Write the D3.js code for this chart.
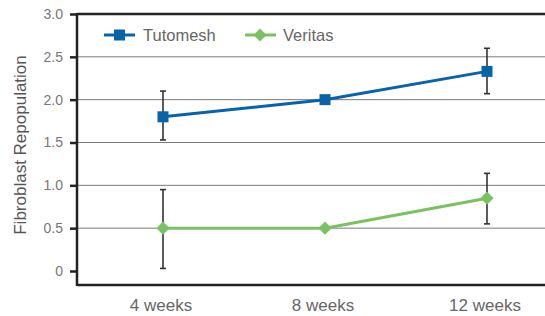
<!DOCTYPE html>
<html>
<head>
<meta charset="utf-8">
<script src="https://cdn.jsdelivr.net/npm/d3@7"></script>
<style>
  body { margin: 0; background: #fff; }
  text { font-family: "Liberation Sans", Arial, sans-serif; }
</style>
</head>
<body>
<div id="chart"></div>
<script>
const categories = ["4 weeks", "8 weeks", "12 weeks"];
const tutomesh = [1.8, 2.0, 2.33];
const tutomeshLow = [1.53, null, 2.07];
const tutomeshHigh = [2.1, null, 2.6];
const veritas = [0.5, 0.5, 0.85];
const veritasLow = [0.03, null, 0.55];
const veritasHigh = [0.95, null, 1.14];
const yTicks = [0, 0.5, 1.0, 1.5, 2.0, 2.5, 3.0];

const width = 545, height = 316;
const svg = d3.select("#chart").append("svg")
  .attr("width", width).attr("height", height);

const plotLeft = 77, plotRight = 545, plotTop = 14, plotBottom = 285;

const x = d3.scalePoint().domain(categories).range([163, 487]);
const y = d3.scaleLinear().domain([0, 3]).range([271, 14]);

// gridlines
svg.append("g")
  .selectAll("line")
  .data(yTicks.slice(1, -1))
  .enter()
  .append("line")
  .attr("x1", plotLeft).attr("x2", plotRight)
  .attr("y1", (d) => y(d)).attr("y2", (d) => y(d))
  .attr("stroke", "#7a7a7a")
  .attr("stroke-width", 1);

// y axis
const yAxis = d3.axisLeft(y).tickValues(yTicks)
  .tickFormat((d) => (d === 0 ? "0" : d3.format(".1f")(d)))
  .tickSize(7).tickPadding(7);
const gy = svg.append("g")
  .attr("transform", `translate(${plotLeft},0)`)
  .call(yAxis);
gy.select(".domain").remove();
gy.selectAll(".tick line").attr("stroke", "#222").attr("stroke-width", 2.5);
gy.selectAll(".tick text")
  .attr("fill", "#777").style("font-size", "14px")
  .style("font-family", "'Liberation Sans', Arial, sans-serif");

// frame: left axis, top line, bottom line
svg.append("line").attr("x1", plotLeft).attr("x2", plotLeft).attr("y1", plotTop - 1).attr("y2", plotBottom + 1)
  .attr("stroke", "#222").attr("stroke-width", 2.5);
svg.append("line").attr("x1", plotLeft).attr("x2", plotRight).attr("y1", plotTop).attr("y2", plotTop)
  .attr("stroke", "#222").attr("stroke-width", 2.5);
svg.append("line").attr("x1", plotLeft).attr("x2", plotRight).attr("y1", plotBottom).attr("y2", plotBottom)
  .attr("stroke", "#222").attr("stroke-width", 2.5);

// x labels
svg.append("g")
  .selectAll("text")
  .data(categories)
  .enter()
  .append("text")
  .attr("x", (d) => x(d) - 2)
  .attr("y", 311)
  .attr("text-anchor", "middle")
  .attr("fill", "#666")
  .style("font-size", "17px")
  .text((d) => d);

// y label
svg.append("text")
  .attr("transform", "rotate(-90)")
  .attr("x", -145)
  .attr("y", 26)
  .attr("text-anchor", "middle")
  .attr("fill", "#555")
  .style("font-size", "17px")
  .text("Fibroblast Repopulation");

const line = d3.line()
  .x((d, i) => x(categories[i]))
  .y((d) => y(d));

function errorBars(values, low, high) {
  const g = svg.append("g").attr("stroke", "#333").attr("stroke-width", 1.6);
  categories.forEach((c, i) => {
    if (low[i] == null) return;
    const cx = x(c);
    g.append("line").attr("x1", cx).attr("x2", cx).attr("y1", y(high[i])).attr("y2", y(low[i]));
    g.append("line").attr("x1", cx - 3).attr("x2", cx + 3).attr("y1", y(high[i])).attr("y2", y(high[i]));
    g.append("line").attr("x1", cx - 3).attr("x2", cx + 3).attr("y1", y(low[i])).attr("y2", y(low[i]));
  });
}

errorBars(tutomesh, tutomeshLow, tutomeshHigh);
errorBars(veritas, veritasLow, veritasHigh);

const blue = "#0a63a6", green = "#79c163";

svg.append("path").datum(tutomesh).attr("d", line)
  .attr("fill", "none").attr("stroke", blue).attr("stroke-width", 3);
svg.append("path").datum(veritas).attr("d", line)
  .attr("fill", "none").attr("stroke", green).attr("stroke-width", 3);

svg.selectAll(".sq").data(tutomesh).enter().append("rect")
  .attr("class", "sq")
  .attr("x", (d, i) => x(categories[i]) - 5.5)
  .attr("y", (d) => y(d) - 5.5)
  .attr("width", 11).attr("height", 11)
  .attr("fill", blue);

const diamond = d3.symbol().type(d3.symbolDiamond2).size(110);
svg.selectAll(".dm").data(veritas).enter().append("path")
  .attr("class", "dm")
  .attr("transform", (d, i) => `translate(${x(categories[i])},${y(d)})`)
  .attr("d", diamond)
  .attr("fill", green);

// legend
const legend = svg.append("g");
legend.append("line").attr("x1", 104).attr("x2", 135).attr("y1", 35).attr("y2", 35)
  .attr("stroke", blue).attr("stroke-width", 3);
legend.append("rect").attr("x", 114).attr("y", 29.5).attr("width", 11).attr("height", 11).attr("fill", blue);
legend.append("text").attr("x", 143).attr("y", 41).attr("fill", "#666")
  .style("font-size", "16.5px").text("Tutomesh");
legend.append("line").attr("x1", 245).attr("x2", 276).attr("y1", 35).attr("y2", 35)
  .attr("stroke", green).attr("stroke-width", 3);
legend.append("path").attr("transform", "translate(260,35)").attr("d", diamond).attr("fill", green);
legend.append("text").attr("x", 283).attr("y", 41).attr("fill", "#666")
  .style("font-size", "16.5px").text("Veritas");
</script>
</body>
</html>
